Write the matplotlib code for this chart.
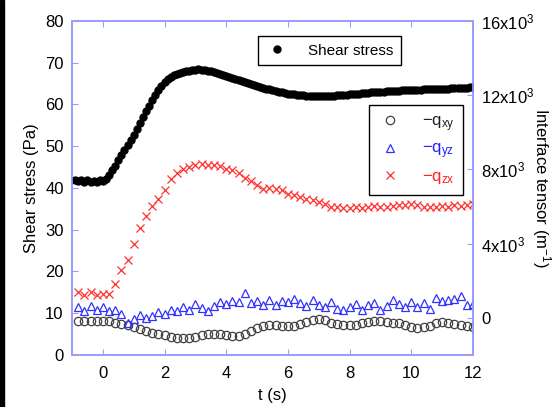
import numpy as np
import matplotlib
matplotlib.use("Agg")
from matplotlib import pyplot as plt
from matplotlib.patches import Rectangle

plt.rcParams['font.family'] = ['Liberation Sans', 'DejaVu Sans']
plt.rcParams['mathtext.fontset'] = 'custom'
plt.rcParams['mathtext.rm'] = 'Liberation Sans'
plt.rcParams['mathtext.it'] = 'Liberation Sans'

# shear stress (Pa), sampled every 0.1 s from -0.9 s
t_shear = np.round(np.arange(-0.9, 12.05, 0.1), 1)
shear = [42.0, 41.6, 41.9, 41.5, 41.8, 41.4, 41.7, 41.5, 41.9, 41.6,
         42.2, 43.0, 44.2, 45.3, 46.6, 48.0, 49.2, 50.4, 51.6, 52.8,
         54.2, 55.6, 57.0, 58.4, 59.7, 61.0, 62.3, 63.4, 64.4, 65.3,
         66.0, 66.6, 67.0, 67.4, 67.6, 67.8, 68.0, 68.1, 68.2, 68.3,
         68.4, 68.3, 68.2, 68.1, 68.0, 67.8, 67.6, 67.4, 67.1, 66.9,
         66.6, 66.4, 66.1, 65.9, 65.6, 65.4, 65.1, 64.9, 64.6, 64.4,
         64.2, 64.0, 63.8, 63.6, 63.4, 63.2, 63.0, 62.9, 62.7, 62.6,
         62.5, 62.4, 62.3, 62.2, 62.2, 62.1, 62.1, 62.0, 62.0, 62.0,
         62.0, 62.0, 62.0, 62.1, 62.1, 62.2, 62.2, 62.3, 62.3, 62.4,
         62.5, 62.5, 62.6, 62.7, 62.8, 62.8, 62.9, 63.0, 63.0, 63.1,
         63.1, 63.2, 63.2, 63.3, 63.3, 63.3, 63.4, 63.4, 63.4, 63.5,
         63.5, 63.5, 63.5, 63.6, 63.6, 63.6, 63.7, 63.7, 63.7, 63.8,
         63.8, 63.8, 63.9, 63.9, 63.9, 64.0, 64.0, 64.0, 64.1, 64.1]

# interface tensor components (1/m), sampled every 0.2 s from -0.8 s
t_q = np.round(np.arange(-0.8, 12.05, 0.2), 1)
q_xy = [-160, -150, -150, -160, -170, -190, -250, -320, -400, -500,
        -600, -700, -790, -850, -920, -1020, -1070, -1080, -1070, -1020,
        -920, -870, -860, -880, -930, -980, -960, -880, -720, -560,
        -440, -380, -400, -440, -450, -420, -330, -220, -120, -80,
        -140, -250, -330, -380, -390, -360, -300, -220, -170, -190,
        -230, -260, -300, -380, -480, -520, -500, -420, -300, -240,
        -260, -330, -400, -450, -480]
q_yz = [600, 380, 620, 420, 560, 350, 450, 200, -250, -50,
        150, 0, 100, 300, 200, 450, 350, 600, 420, 750,
        550, 350, 650, 850, 750, 900, 850, 1350, 800, 900,
        700, 950, 700, 900, 850, 1000, 800, 650, 950, 700,
        600, 850, 500, 400, 600, 750, 400, 700, 800, 450,
        650, 950, 750, 600, 850, 600, 800, 500, 1050, 900,
        950, 1000, 1200, 700, 750]
q_zx = [1400, 1250, 1400, 1250, 1300, 1300, 1800, 2600, 3100, 4000,
        4850, 5500, 6050, 6400, 6900, 7500, 7800, 8000, 8150, 8250,
        8300, 8250, 8250, 8200, 8050, 7950, 7800, 7550, 7350, 7150,
        6950, 7000, 6950, 6900, 6700, 6600, 6500, 6400, 6350, 6250,
        6150, 6000, 5950, 5900, 5900, 5950, 5900, 5950, 6050, 6000,
        5950, 6050, 6100, 6100, 6150, 6100, 6000, 5950, 6000, 6050,
        6000, 6100, 6050, 6100, 6150]

x_ticks = [0, 2, 4, 6, 8, 10, 12]
left_ticks = [0, 10, 20, 30, 40, 50, 60, 70, 80]
right_ticks = [0, 4000, 8000, 12000, 16000]
right_labels = ['0', '4x10$^{3}$', '8x10$^{3}$', '12x10$^{3}$', '16x10$^{3}$']

spine_col = '#9a9aff'

fig = plt.figure(figsize=(5.56, 4.07), dpi=100)
ax = fig.add_axes([0.1295, 0.1278, 0.7212, 0.8206])
ax2 = ax.twinx()

sh, = ax.plot(t_shear, shear, 'o', color='black', ms=5, mec='black',
              label='Shear stress', zorder=3)

l1, = ax2.plot(t_q, q_xy, 'o', ms=6, mfc='none', mec='#404040', mew=0.9,
               label=r'$-\mathrm{q}_{\mathrm{xy}}$')
l2, = ax2.plot(t_q, q_yz, '^', ms=6, mfc='none', mec='#3030ff', mew=0.9,
               label=r'$-\mathrm{q}_{\mathrm{yz}}$')
l3, = ax2.plot(t_q, q_zx, 'x', ms=6, color='#ff3030', mew=0.9,
               label=r'$-\mathrm{q}_{\mathrm{zx}}$')

ax.set_xlim(-1, 12)
ax.set_ylim(0, 80)
ax2.set_ylim(-2000, 16000)
ax.set_xticks(x_ticks)
ax.set_yticks(left_ticks)
ax2.set_yticks(right_ticks)
ax2.set_yticklabels(right_labels)

for a in (ax, ax2):
    for s in a.spines.values():
        s.set_color(spine_col)
        s.set_linewidth(1.2)
ax.tick_params(axis='x', direction='in', top=True, length=4, color=spine_col,
               labelsize=12, pad=8)
ax.tick_params(axis='y', direction='in', right=False, length=4, color=spine_col,
               labelsize=12, pad=6)
ax2.tick_params(axis='y', direction='in', length=4, color=spine_col,
                labelsize=12, pad=6)

ax.set_xlabel('t (s)', fontsize=12, labelpad=5)
ax.set_ylabel('Shear stress (Pa)', fontsize=12, labelpad=4)
ax2.set_ylabel('Interface tensor (m$^{-1}$)', fontsize=12, rotation=270,
               labelpad=13)

leg1 = ax.legend(handles=[sh], loc='upper left', bbox_to_anchor=(0.464, 0.9115),
                 bbox_transform=fig.transFigure, fancybox=False, frameon=True,
                 edgecolor='black', framealpha=1, fontsize=11,
                 handlelength=1.5, handletextpad=1.3, borderpad=0.5,
                 borderaxespad=0)
leg1.get_frame().set_linewidth(1.0)

leg2 = ax2.legend(handles=[l1, l2, l3], loc='upper left',
                  bbox_to_anchor=(0.6637, 0.742), bbox_transform=fig.transFigure,
                  fancybox=False, frameon=True, edgecolor='black', framealpha=1,
                  fontsize=12, handlelength=1.4, handletextpad=1.2,
                  borderpad=0.55, labelspacing=0.45, borderaxespad=0)
leg2.get_frame().set_linewidth(1.0)
for txt, c in zip(leg2.get_texts(), ['#202020', '#2020ff', '#ff2020']):
    txt.set_color(c)

# dark strip on the left edge of the picture
fig.patches.append(Rectangle((0, 0), 4 / 556, 1, transform=fig.transFigure,
                             color='black', zorder=0))

fig.savefig('out.png', dpi=100)
